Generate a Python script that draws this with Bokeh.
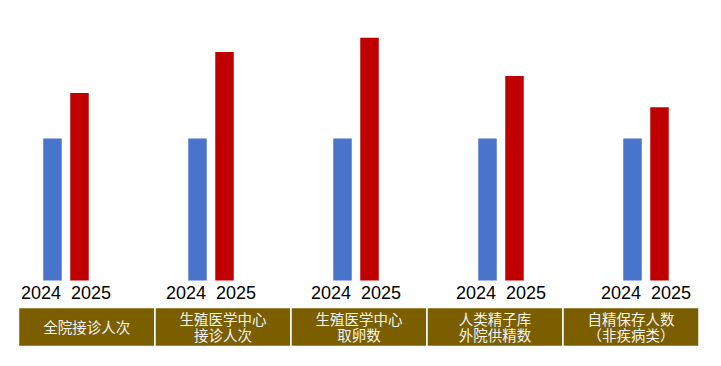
from bokeh.plotting import figure
from bokeh.models import Range1d
from bokeh.core.properties import value
from bokeh.embed import file_html
from bokeh.resources import INLINE

# ---- data ----
categories = ["全院接诊人次", "生殖医学中心\n接诊人次", "生殖医学中心\n取卵数",
              "人类精子库\n外院供精数", "自精保存人数\n（非疾病类）"]
years = ["2024", "2025"]
values_2024 = [100, 100, 100, 100, 100]
values_2025 = [132, 161, 171, 144, 122]

# ---- layout helpers (image pixel -> data) ----
PX = 145.0      # px per group
GX0 = 65.5      # image x of first group centre
PY = 1.42       # px per value unit
BASE = 280.0    # image y of baseline

def xd(ix):
    return (ix - GX0) / PX

def yd(iy):
    return (BASE - iy) / PY

W, H = 705, 350
p = figure(width=W, height=H, output_backend="svg", toolbar_location=None,
           x_range=Range1d(xd(0), xd(W)), y_range=Range1d(yd(H), yd(0)),
           min_border=0)
p.axis.visible = False
p.grid.visible = False
p.outline_line_color = None
p.background_fill_color = "white"
p.border_fill_color = "white"

n = len(categories)
idx = list(range(n))
off = 13.5 / PX
bw = 18.5 / PX
p.vbar(x=[i - off for i in idx], top=values_2024, width=bw, bottom=0,
       fill_color="#4874cb", line_color=None)
p.vbar(x=[i + off for i in idx], top=values_2025, width=bw, bottom=0,
       fill_color="#c00000", line_color=None)

# year labels
loff = 25.0 / PX
for k, sgn in ((0, -1), (1, 1)):
    p.text(x=[i + sgn * loff for i in idx], y=[yd(292)] * n, text=[years[k]] * n,
           text_font=value("Liberation Sans"), text_font_size="18px",
           text_align="center", text_baseline="middle", text_color="black")

# table row
edges = [18, 154.5, 290.5, 426.5, 562.5, 698.5]
p.quad(left=[xd(e) for e in edges[:-1]], right=[xd(e) for e in edges[1:]],
       top=[yd(307)] * n, bottom=[yd(346)] * n,
       fill_color="#7a5e00", line_color="white", line_width=1.5)
centers = [xd((edges[i] + edges[i + 1]) / 2) for i in range(n)]
tx, ty, tt = [], [], []
for c, lab in zip(centers, categories):
    lines = lab.split("\n")
    ys = [326] if len(lines) == 1 else [318, 334]
    for yy, ln in zip(ys, lines):
        tx.append(c)
        ty.append(yd(yy))
        tt.append(ln)
p.text(x=tx, y=ty, text=tt,
       text_font=value("Noto Sans CJK SC"), text_font_size="14.5px",
       text_align="center", text_baseline="middle", text_color="#f4f4f4")

open("out.html", "w").write(file_html(p, INLINE))
